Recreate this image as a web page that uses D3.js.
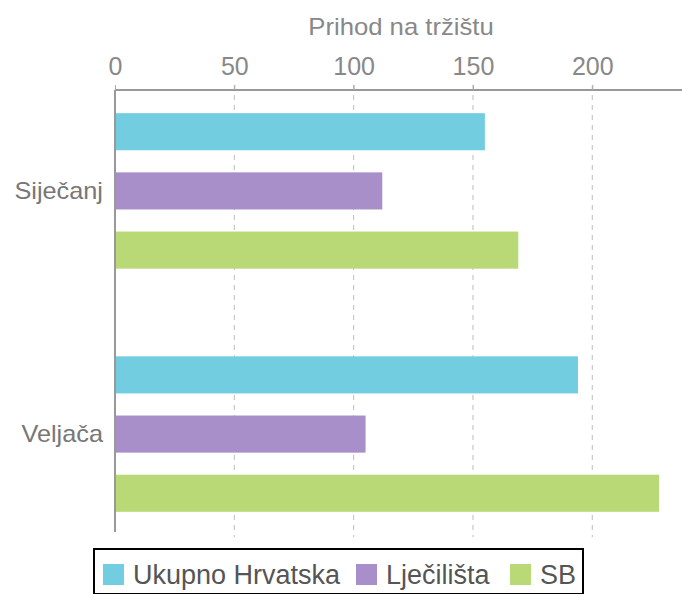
<!DOCTYPE html>
<html><head><meta charset="utf-8">
<script src="https://cdn.jsdelivr.net/npm/d3@7"></script>
<style>
body{margin:0;background:#fff;}
svg{display:block;font-family:"Liberation Sans",Arial,sans-serif;}
</style></head>
<body>
<svg id="c" width="682" height="594"></svg>
<script>
const months = ["Siječanj", "Veljača"];
const seriesNames = ["Ukupno Hrvatska", "Lječilišta", "SB"];
const ukupno = [155, 194];
const ljecilista = [112, 105];
const sb = [169, 228];
const ticks = [0, 50, 100, 150, 200];
const colors = ["#73CDE0", "#A98FC9", "#B9D977"];
const axisTitle = "Prihod na tržištu";

(function () {
const svg = d3.select("#c");
const mLeft = 115, mRight = 682, mTop = 90, mBottom = 537;
const x = d3.scaleLinear().domain([0, 237.6]).range([mLeft, mRight]);
const y0 = d3.scaleBand().domain(months).range([mTop, 535]).paddingInner(0.27).paddingOuter(0.05);
const y1 = d3.scaleBand().domain(seriesNames).range([0, y0.bandwidth()]).paddingInner(0.373).paddingOuter(0.186);

// gridlines
svg.append("g").selectAll("line").data(ticks.filter(t => t > 0)).join("line")
  .attr("x1", d => x(d)).attr("x2", d => x(d))
  .attr("y1", mTop - 5).attr("y2", mBottom)
  .attr("stroke", "#bdbdbd").attr("stroke-width", 1).attr("stroke-dasharray", "5,5");

// top axis
const ax = svg.append("g").attr("transform", `translate(0,${mTop})`)
  .call(d3.axisTop(x).tickValues(ticks).tickSize(5).tickPadding(10));
ax.select(".domain").attr("stroke", "#999").attr("stroke-width", 2).attr("d", `M${mLeft},0H${mRight}`);
ax.selectAll(".tick line").attr("stroke", "#aaa");
ax.selectAll(".tick text").attr("fill", "#888").attr("font-size", 25);

svg.append("text").attr("transform", "translate(401,35) scale(1.07,1)")
  .attr("text-anchor", "middle").attr("fill", "#888").attr("font-size", 24).text(axisTitle);

// left axis line
svg.append("line").attr("x1", mLeft).attr("x2", mLeft).attr("y1", mTop).attr("y2", 532)
  .attr("stroke", "#999").attr("stroke-width", 2);

// bars
const data = [ukupno, ljecilista, sb];
months.forEach((m, i) => {
  const g = svg.append("g").attr("transform", `translate(0,${y0(m)})`);
  g.selectAll("rect").data(seriesNames.map((s, j) => ({s, v: data[j][i], c: colors[j]}))).join("rect")
    .attr("x", x(0) + 1).attr("y", d => y1(d.s))
    .attr("width", d => x(d.v) - x(0) - 1).attr("height", y1.bandwidth())
    .attr("fill", d => d.c);
  svg.append("text").attr("transform", `translate(103,${y0(m) + y0.bandwidth() / 2}) scale(1.1,1)`)
    .attr("dy", "0.35em").attr("text-anchor", "end").attr("fill", "#777").attr("font-size", 23).text(m);
});

// legend
svg.append("rect").attr("x", 94).attr("y", 549).attr("width", 489).attr("height", 45)
  .attr("fill", "#fff").attr("stroke", "#000").attr("stroke-width", 2);
const lx = [103, 356, 510];
seriesNames.forEach((s, j) => {
  svg.append("rect").attr("x", lx[j]).attr("y", 564).attr("width", 21).attr("height", 21).attr("fill", colors[j]);
  svg.append("text").attr("x", lx[j] + 30).attr("y", 584)
    .attr("fill", "#555").attr("font-size", 27).text(s);
});
})();
</script>
</body></html>
